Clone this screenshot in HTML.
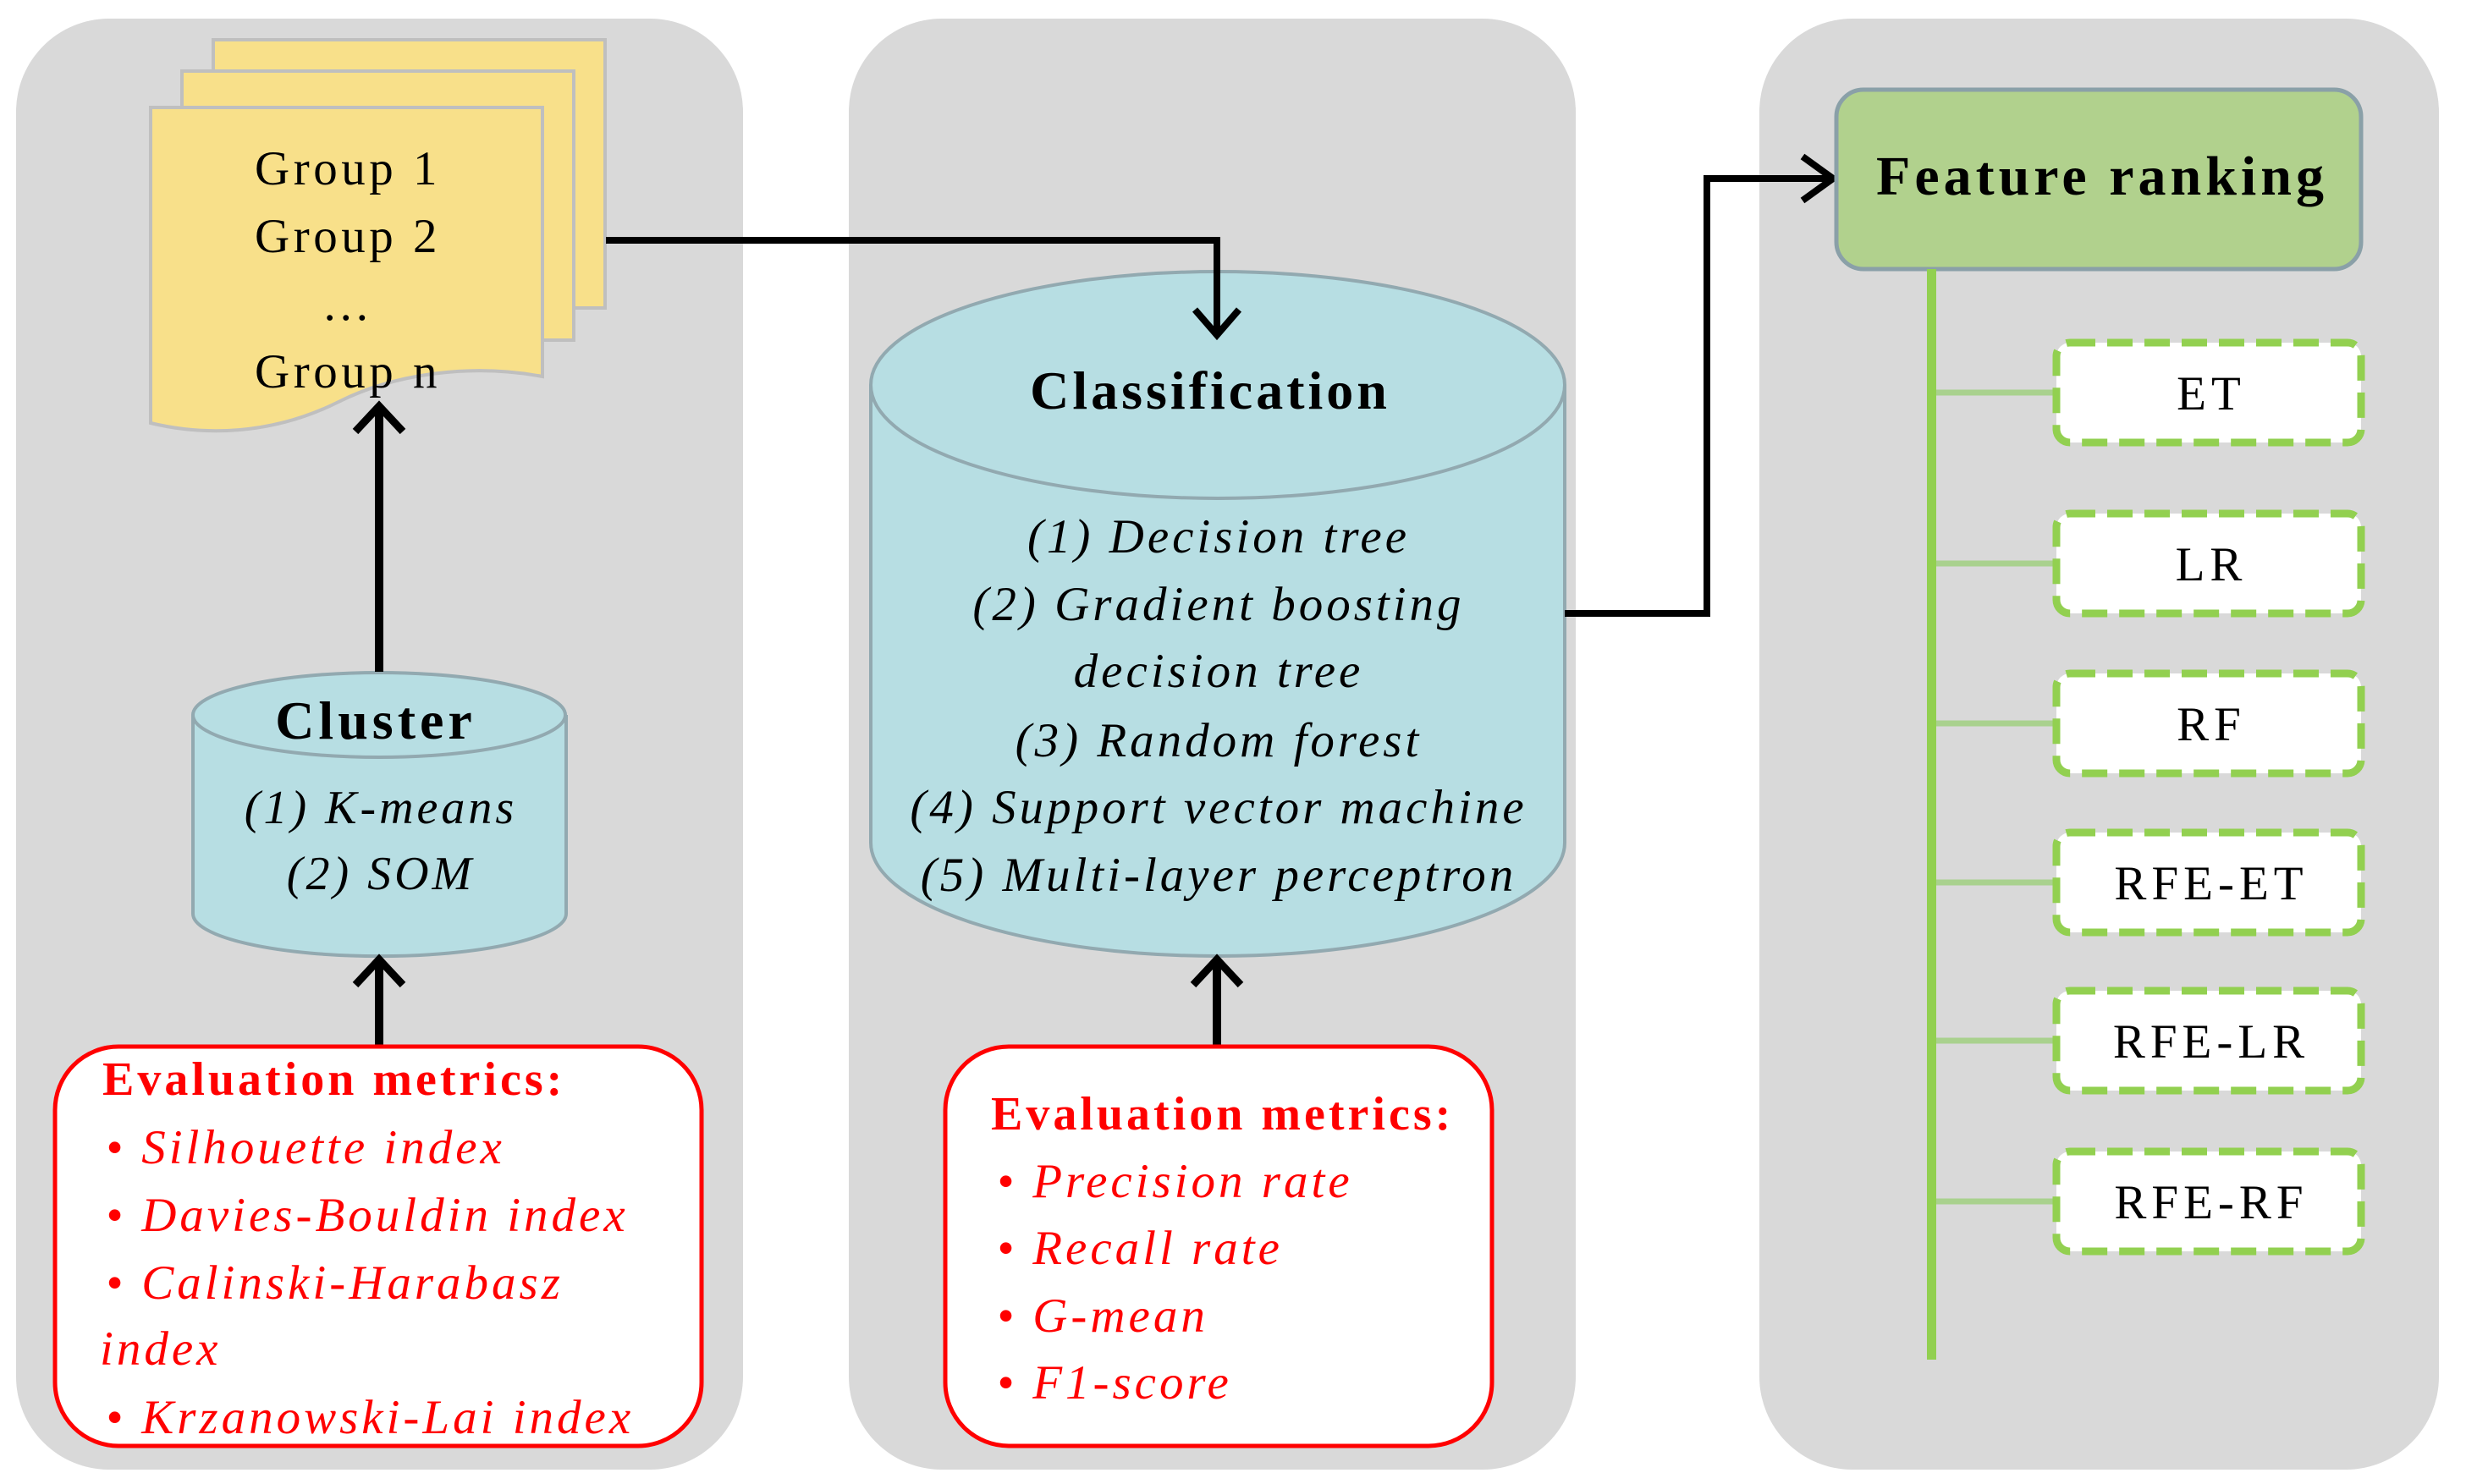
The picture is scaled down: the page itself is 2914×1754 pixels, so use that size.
<!DOCTYPE html>
<html><head><meta charset="utf-8"><style>
html,body{margin:0;padding:0;background:#fff}
svg{display:block}
text{font-family:"Liberation Serif",serif}
</style></head><body>
<svg width="2914" height="1754" viewBox="0 0 2914 1754" xmlns="http://www.w3.org/2000/svg">
<!-- panels -->
<rect x="19" y="22" width="859" height="1715" rx="110" fill="#d9d9d9"/>
<rect x="1003" y="22" width="859" height="1715" rx="110" fill="#d9d9d9"/>
<rect x="2079" y="22" width="803" height="1715" rx="110" fill="#d9d9d9"/>

<!-- stacked pages -->
<rect x="252" y="47" width="463" height="317" fill="#f8e08a" stroke="#bfbfbf" stroke-width="4"/>
<rect x="215" y="84" width="463" height="318" fill="#f8e08a" stroke="#bfbfbf" stroke-width="4"/>
<path d="M178 127 L641 127 L641 445 C560 430 470 440 400 475 C320 515 240 515 178 500 Z" fill="#f8e08a" stroke="#bfbfbf" stroke-width="4"/>
<g font-size="57" text-anchor="middle" fill="#000" letter-spacing="4.5">
<text x="411" y="218">Group 1</text>
<text x="411" y="298">Group 2</text>
<text x="411" y="378">…</text>
<text x="411" y="458">Group n</text>
</g>

<!-- cluster cylinder -->
<path d="M228 845 L228 1080 A220 50 0 0 0 669 1080 L669 845" fill="#b7dee3" stroke="#92a9b0" stroke-width="4"/>
<ellipse cx="448" cy="845" rx="220" ry="50" fill="#b7dee3" stroke="#92a9b0" stroke-width="4"/>
<text x="444" y="873" font-size="64" font-weight="bold" text-anchor="middle" letter-spacing="5">Cluster</text>
<g font-size="56" font-style="italic" text-anchor="middle" letter-spacing="4">
<text x="450" y="973">(1) K-means</text>
<text x="450" y="1051">(2) SOM</text>
</g>
<path d="M448 794 L448 482" stroke="#000" stroke-width="10"/>
<path d="M420 510 L448 480 L476 510" fill="none" stroke="#000" stroke-width="9"/>
<path d="M448 1237 L448 1138" stroke="#000" stroke-width="10"/>
<path d="M420 1164 L448 1134 L476 1164" fill="none" stroke="#000" stroke-width="9"/>

<!-- eval box 1 -->
<rect x="65" y="1237" width="764" height="472" rx="75" fill="#fff" stroke="#ff0000" stroke-width="5"/>
<text x="121" y="1294" font-size="56" font-weight="bold" fill="#ff0000" letter-spacing="4">Evaluation metrics:</text>
<g font-size="57" font-style="italic" fill="#ff0000" letter-spacing="4">
<text x="125" y="1375">• Silhouette index</text>
<text x="125" y="1455">• Davies-Bouldin index</text>
<text x="125" y="1535">• Calinski-Harabasz</text>
<text x="118" y="1613">index</text>
<text x="125" y="1694">• Krzanowski-Lai index</text>
</g>

<!-- classification cylinder -->
<path d="M1029 455 L1029 996 A410 134 0 0 0 1849 996 L1849 455" fill="#b7dee3" stroke="#92a9b0" stroke-width="4"/>
<ellipse cx="1439" cy="455" rx="410" ry="134" fill="#b7dee3" stroke="#92a9b0" stroke-width="4"/>
<path d="M716 284 L1438 284 L1438 392" fill="none" stroke="#000" stroke-width="8"/>
<path d="M1412 366 L1438 396 L1464 366" fill="none" stroke="#000" stroke-width="8"/>
<text x="1430" y="483" font-size="64" font-weight="bold" text-anchor="middle" letter-spacing="4">Classification</text>
<g font-size="57" font-style="italic" text-anchor="middle" letter-spacing="4">
<text x="1440" y="653">(1) Decision tree</text>
<text x="1440" y="733">(2) Gradient boosting</text>
<text x="1440" y="812">decision tree</text>
<text x="1440" y="894">(3) Random forest</text>
<text x="1440" y="973">(4) Support vector machine</text>
<text x="1440" y="1053">(5) Multi-layer perceptron</text>
</g>
<path d="M1438 1237 L1438 1138" stroke="#000" stroke-width="10"/>
<path d="M1410 1164 L1438 1134 L1466 1164" fill="none" stroke="#000" stroke-width="9"/>

<!-- eval box 2 -->
<rect x="1117" y="1237" width="646" height="472" rx="75" fill="#fff" stroke="#ff0000" stroke-width="5"/>
<text x="1171" y="1335" font-size="56" font-weight="bold" fill="#ff0000" letter-spacing="4">Evaluation metrics:</text>
<g font-size="57" font-style="italic" fill="#ff0000" letter-spacing="4">
<text x="1178" y="1415">• Precision rate</text>
<text x="1178" y="1494">• Recall rate</text>
<text x="1178" y="1574">• G-mean</text>
<text x="1178" y="1653">• F1-score</text>
</g>

<!-- connector classification -> feature ranking -->
<path d="M1849 725 L2017 725 L2017 211 L2162 211" fill="none" stroke="#000" stroke-width="8"/>
<path d="M2130 185 L2166 211 L2130 237" fill="none" stroke="#000" stroke-width="8"/>

<!-- feature ranking -->
<g transform="translate(-12,0)">
<rect x="2182" y="106" width="620" height="212" rx="32" fill="#b1d18d" stroke="#8aa0a8" stroke-width="5"/>
<text x="2496" y="230" font-size="66" font-weight="bold" text-anchor="middle" letter-spacing="5">Feature ranking</text>
<rect x="2289" y="318" width="11" height="1289" fill="#92d050"/>
<path d="M2300 464 L2440 464 M2300 666 L2440 666 M2300 855 L2440 855 M2300 1043 L2440 1043 M2300 1230 L2440 1230 M2300 1420 L2440 1420" stroke="#a9d18e" stroke-width="7"/>
<g fill="#fff" stroke="#92d050" stroke-width="9" stroke-dasharray="30 14">
<rect x="2442" y="405" width="360" height="118" rx="16"/>
<rect x="2442" y="607" width="360" height="118" rx="16"/>
<rect x="2442" y="796" width="360" height="118" rx="16"/>
<rect x="2442" y="984" width="360" height="118" rx="16"/>
<rect x="2442" y="1171" width="360" height="118" rx="16"/>
<rect x="2442" y="1361" width="360" height="118" rx="16"/>
</g>
<g font-size="57" text-anchor="middle" fill="#000" letter-spacing="6">
<text x="2625" y="484">ET</text>
<text x="2625" y="686">LR</text>
<text x="2625" y="875">RF</text>
<text x="2625" y="1063">RFE-ET</text>
<text x="2625" y="1250">RFE-LR</text>
<text x="2625" y="1440">RFE-RF</text>
</g>
</g>
</svg>
</body></html>
